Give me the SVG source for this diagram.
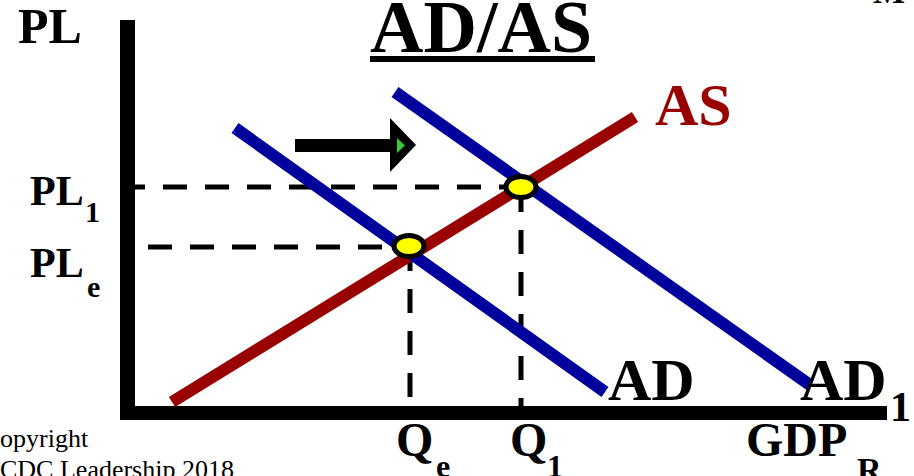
<svg xmlns="http://www.w3.org/2000/svg" width="914" height="476" viewBox="0 0 914 476">
<style>
.t{font-family:"Liberation Serif","Times New Roman",serif;font-weight:bold;fill:#000}
.c{font-family:"Liberation Serif","Times New Roman",serif;fill:#000;font-size:26px}
.dash{stroke:#000;stroke-width:5;stroke-dasharray:24 18;fill:none}
.curve{stroke-width:12;fill:none;stroke-linecap:butt}
.ad{stroke:#00009C}
.as{stroke:#990000}
.pt{fill:#FFFF00;stroke:#000;stroke-width:5}
</style>
<rect width="914" height="476" fill="#fff"/>
<g id="title">
<text class="t" x="370" y="52" font-size="74">AD/AS</text>
<rect x="370" y="56" width="225" height="6" fill="#000"/>
</g>
<text class="t" x="873" y="3" font-size="34">M</text>
<g id="connectors">
<line class="dash" x1="121" y1="187" x2="520" y2="187"/>
<line class="dash" x1="148" y1="247" x2="410" y2="247"/>
<line class="dash" x1="410" y1="247" x2="410" y2="406"/>
<line class="dash" x1="521" y1="188" x2="521" y2="406"/>
</g>
<g id="axes">
<rect x="120" y="20" width="15" height="400" fill="#000"/>
<rect x="122" y="406" width="765" height="14" fill="#000"/>
</g>
<g id="AS-curve">
<line class="curve as" x1="172" y1="402" x2="635" y2="117"/>
<text class="t" x="655" y="125" font-size="60" fill="#990000" style="fill:#990000">AS</text>
</g>
<g id="AD-curve">
<line class="curve ad" x1="235" y1="128" x2="605" y2="392"/>
<text class="t" x="608" y="400" font-size="60">AD</text>
</g>
<g id="AD1-curve">
<line class="curve ad" x1="395" y1="92" x2="810" y2="385"/>
<text class="t" x="800" y="400" font-size="60">AD</text>
<text class="t" x="890" y="421" font-size="42">1</text>
</g>
<g id="shift-arrow">
<rect x="295" y="139" width="96" height="13" fill="#000"/>
<polygon points="390,118 416,145 390,172" fill="#000"/>
<polygon points="397,138 405,145.5 397,153" fill="#33CC33"/>
</g>
<g id="eq-e"><ellipse class="pt" cx="409" cy="246" rx="15" ry="10.5"/></g>
<g id="eq-1"><ellipse class="pt" cx="521" cy="187" rx="15" ry="10.5"/></g>
<g id="labels">
<text class="t" x="18" y="43" font-size="50">PL</text>
<text class="t" x="30" y="205" font-size="42">PL</text>
<text class="t" x="85" y="222" font-size="30">1</text>
<text class="t" x="30" y="277" font-size="42">PL</text>
<text class="t" x="87" y="297" font-size="30">e</text>
<text class="t" x="396" y="456" font-size="48">Q</text>
<text class="t" x="436" y="477" font-size="32">e</text>
<text class="t" x="510" y="456" font-size="48">Q</text>
<text class="t" x="547" y="477" font-size="32">1</text>
<text class="t" x="746" y="456" font-size="48">GDP</text>
<text class="t" x="857" y="481" font-size="34">R</text>
</g>
<g id="copyright">
<text class="c" x="0" y="447">opyright</text>
<text class="c" x="0" y="478">CDC Leadership 2018</text>
</g>
</svg>
